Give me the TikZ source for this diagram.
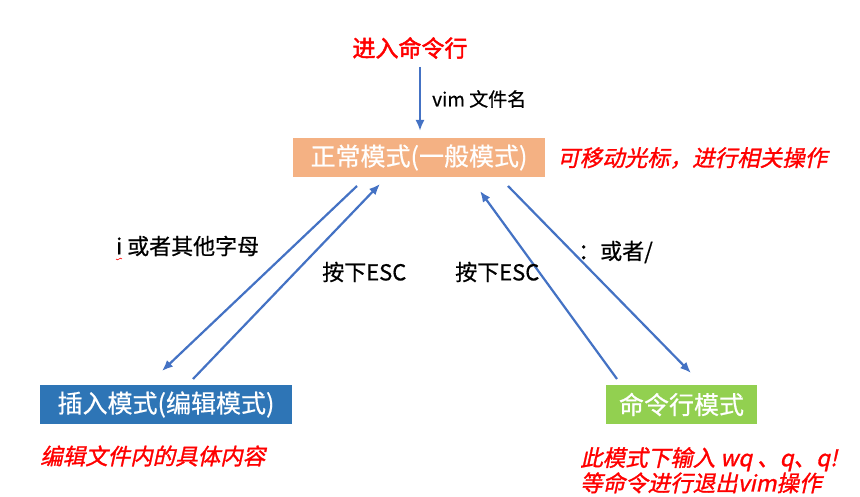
\documentclass[tikz,border=0pt]{standalone}
\usepackage{fontspec}
\setmainfont{Noto Sans CJK SC}
\newfontfamily\titlefont[FakeBold=2]{Noto Sans CJK SC}
\newfontfamily\labelfont[FakeBold=0.6]{Noto Sans CJK SC}
\newfontfamily\notefont[FakeSlant=0.22,FakeBold=1.2]{Noto Sans CJK SC}
\usetikzlibrary{arrows.meta}
\definecolor{arrowblue}{HTML}{4472C4}
\definecolor{boxorange}{HTML}{F4B183}
\definecolor{boxblue}{HTML}{2E75B6}
\definecolor{boxgreen}{HTML}{92D050}
\definecolor{notered}{HTML}{FF0000}
\tikzset{
  modebox/.style={draw=none, text=white, inner sep=0pt, font=\labelfont\fontsize{25}{28}\selectfont},
  label/.style={inner sep=0pt, font=\labelfont\fontsize{22}{26}\selectfont, text=black},
  note/.style={inner sep=0pt, text=notered, font=\notefont\fontsize{22.5}{23.5}\selectfont, align=left},
  flow/.style={draw=arrowblue, line width=2.2pt, -{Latex[length=11pt,width=9pt]}}
}
\begin{document}
\begin{tikzpicture}[x=1pt,y=-1pt]
\useasboundingbox[fill=white] (0,0) rectangle (860,497);
% title
\node[inner sep=0pt, text=notered, font=\titlefont\fontsize{23}{26}\selectfont] (title) at (410,48) {进入命令行};
% boxes
\node[modebox, fill=boxorange, minimum width=252pt, minimum height=39pt] (normal) at (419,157.5) {正常模式(一般模式)};
\node[modebox, fill=boxblue, minimum width=252pt, minimum height=39pt] (insert) at (166,404.5) {插入模式(编辑模式)};
\node[modebox, fill=boxgreen, minimum width=151pt, minimum height=39pt] (cmd) at (681.5,404.5) {命令行模式};
% notes
\node[note, anchor=west] (n1) at (557,158) {可移动光标，进行相关操作};
\node[note, anchor=west] (n2) at (40,456) {编辑文件内的具体内容};
\node[note, anchor=north west] (n3) at (580,447) {此模式下输入 wq 、q、q!\\等命令进行退出vim操作};
% connector end points
\coordinate (t0) at (420,67);
\coordinate (t1) at (420,131);
\coordinate (a1s) at (357,186);
\coordinate (a1e) at (162,371);
\coordinate (a2s) at (193,379);
\coordinate (a2e) at (380,184);
\coordinate (a3s) at (617,379);
\coordinate (a3e) at (480,191);
\coordinate (a4s) at (508,186);
\coordinate (a4e) at (691,373);
\draw[flow] (t0) -- (t1);
\draw[flow] (a1s) -- (a1e);
\draw[flow] (a2s) -- (a2e);
\draw[flow] (a3s) -- (a3e);
\draw[flow] (a4s) -- (a4e);
% labels
\node[label, anchor=west, font=\labelfont\fontsize{19}{22}\selectfont] (l0) at (432,99) {vim 文件名};
\node[label, anchor=west] (l1) at (116,246) {i 或者其他字母};
\node[label, anchor=west] (l2) at (322,272) {按下ESC};
\node[label, anchor=west] (l3) at (455,272) {按下ESC};
\node[label, anchor=west] (l4) at (578,252) {：或者/};
% spell-check squiggle under i
\draw[notered, line width=0.6pt] (116,259) .. controls (118,262) and (120,256) .. (122,259);
\end{tikzpicture}
\end{document}
